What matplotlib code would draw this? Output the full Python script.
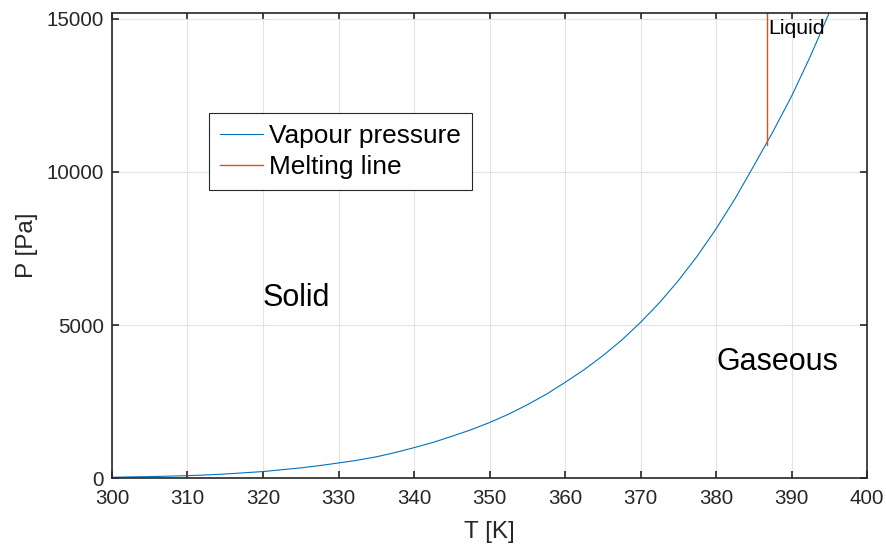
import matplotlib
matplotlib.use("Agg")
import matplotlib.pyplot as plt

plt.rcParams['font.family'] = ['Liberation Sans', 'DejaVu Sans']

# vapour pressure curve
temp_K = [300, 302.5, 305, 307.5, 310, 312.5, 315, 317.5, 320, 322.5,
          325, 327.5, 330, 332.5, 335, 337.5, 340, 342.5, 345, 347.5,
          350, 352.5, 355, 357.5, 360, 362.5, 365, 367.5, 370, 372.5,
          375, 377.5, 380, 382.5, 385, 387.5, 390, 392.5, 395]
pres_Pa = [35, 45, 55, 70, 85, 110, 140, 180, 220, 280,
           340, 415, 500, 590, 700, 840, 1000, 1170, 1370, 1580,
           1820, 2090, 2400, 2740, 3130, 3540, 4000, 4510, 5090, 5730,
           6450, 7250, 8140, 9120, 10200, 11300, 12470, 13780, 15200]

# melting line
melt_T = [386.7, 386.7]
melt_P = [10870, 15200]

xticks = [300, 310, 320, 330, 340, 350, 360, 370, 380, 390, 400]
yticks = [0, 5000, 10000, 15000]

blue = '#0072BD'
orange = '#D95319'
dark = '#262626'

fig = plt.figure(figsize=(8.86, 5.47), dpi=100)
ax = fig.add_axes([0.1264, 0.1256, 0.8522, 0.8512])

ax.plot(temp_K, pres_Pa, color=blue, lw=0.8, label='Vapour pressure')
ax.plot(melt_T, melt_P, color=orange, lw=1.0, label='Melting line')

ax.set_xlim(300, 400)
ax.set_ylim(0, 15200)
ax.set_xticks(xticks)
ax.set_yticks(yticks)
ax.grid(True, color='#e3e3e3', lw=0.8)
ax.set_axisbelow(True)

for s in ax.spines.values():
    s.set_color(dark)
    s.set_linewidth(1.2)
ax.tick_params(direction='in', length=5, width=1.2, color=dark,
               labelcolor=dark, labelsize=14.8, top=True, right=True, pad=6)
ax.tick_params(axis='x', pad=8)

ax.set_xlabel('T [K]', fontsize=17.5, color=dark, labelpad=9)
ax.set_ylabel('P [Pa]', fontsize=17.5, color=dark, labelpad=6)

ax.text(320, 5630, 'Solid', fontsize=22, va='baseline')
ax.text(380, 3540, 'Gaseous', fontsize=22, va='baseline')
ax.text(386.9, 14520, 'Liquid', fontsize=15.3, va='baseline')

leg = ax.legend(loc='upper left', bbox_to_anchor=(0.1285, 0.784),
                borderaxespad=0, fontsize=18.9, fancybox=False,
                handlelength=1.65, handletextpad=0.25, labelspacing=0.28,
                borderpad=0.4, framealpha=1)
leg.get_frame().set_edgecolor(dark)
leg.get_frame().set_linewidth(0.8)

fig.savefig('out.png', dpi=100)
